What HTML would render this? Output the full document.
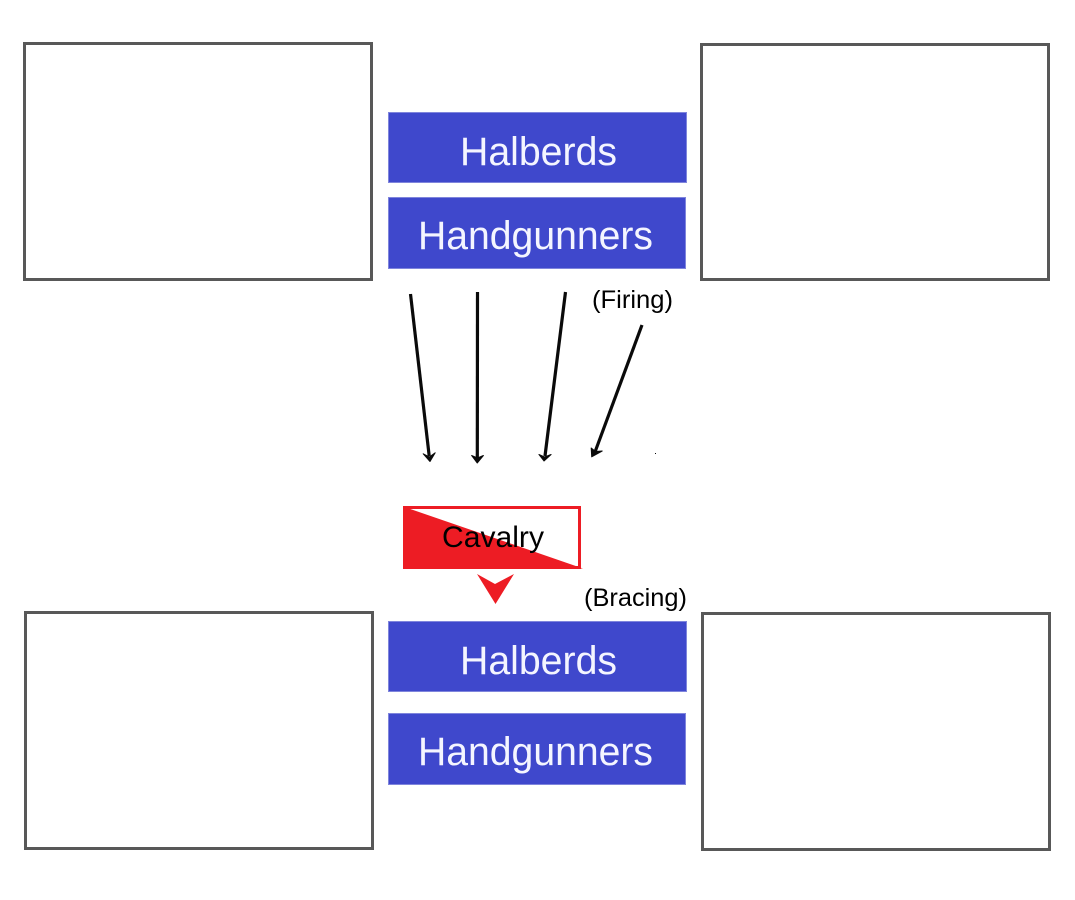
<!DOCTYPE html>
<html>
<head>
<meta charset="utf-8">
<style>
html,body{margin:0;padding:0;background:#fff;width:1075px;height:900px;overflow:hidden}
svg{display:block}
text{font-family:"Liberation Sans",sans-serif}
</style>
</head>
<body>
<svg width="1075" height="900" viewBox="0 0 1075 900">
<rect width="1075" height="900" fill="#fff"/>
<g fill="#fff" stroke="#585858" stroke-width="3">
<rect x="24.5" y="43.5" width="347" height="236"/>
<rect x="701.5" y="44.5" width="347" height="235"/>
<rect x="25.5" y="612.5" width="347" height="236"/>
<rect x="702.5" y="613.5" width="347" height="236"/>
</g>
<g fill="#3f48cc" stroke="#7f85dc" stroke-width="1">
<rect x="388.5" y="112.5" width="298" height="70"/>
<rect x="388.5" y="197.5" width="297" height="71"/>
<rect x="388.5" y="621.5" width="298" height="70"/>
<rect x="388.5" y="713.5" width="297" height="71"/>
</g>
<g fill="#f4f5ff" font-size="40">
<text x="460" y="165" textLength="157" lengthAdjust="spacingAndGlyphs">Halberds</text>
<text x="418" y="249" textLength="235" lengthAdjust="spacingAndGlyphs">Handgunners</text>
<text x="460" y="674" textLength="157" lengthAdjust="spacingAndGlyphs">Halberds</text>
<text x="418" y="765" textLength="235" lengthAdjust="spacingAndGlyphs">Handgunners</text>
</g>
<g stroke="#0a0a0a" stroke-width="3.2" fill="none">
<line x1="410.5" y1="294" x2="429.2" y2="456"/>
<line x1="477.5" y1="292" x2="477.3" y2="458"/>
<line x1="565.5" y1="292" x2="545" y2="456"/>
<line x1="642" y1="325" x2="595" y2="452"/>
</g>
<g fill="#0a0a0a" stroke="#0a0a0a" stroke-width="1" stroke-linejoin="round">
<polygon points="430,461.5 423.2,453.8 429.3,457 435.2,452.8"/>
<polygon points="477.2,463 471.6,455.5 477.5,458 483.4,455.5"/>
<polygon points="544,461 538.9,454.5 544.5,457 551.1,454.5"/>
<polygon points="591.7,456.8 591.2,448 595.5,451.5 602.2,451"/>
<rect x="655" y="453" width="1" height="1" stroke="none"/>
</g>
<text x="592" y="308" font-size="25" fill="#000" textLength="81" lengthAdjust="spacingAndGlyphs">(Firing)</text>
<rect x="404.5" y="507.5" width="175" height="60" fill="#fff" stroke="#ed1c24" stroke-width="3"/>
<polygon points="403,506.5 583,568.5 403,569" fill="#ed1c24"/>
<text x="442" y="547" font-size="30" fill="#000" textLength="102" lengthAdjust="spacingAndGlyphs">Cavalry</text>
<polygon points="477,574 495,584 514,574 495.5,604" fill="#ed1c24"/>
<text x="584" y="606" font-size="25" fill="#000" textLength="103" lengthAdjust="spacingAndGlyphs">(Bracing)</text>
</svg>
</body>
</html>
